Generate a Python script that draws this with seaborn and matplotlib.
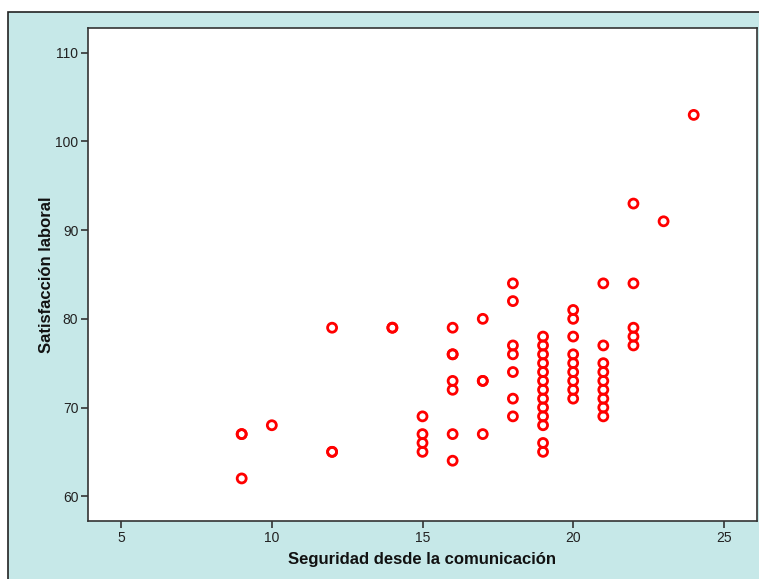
import matplotlib
matplotlib.use("Agg")
import matplotlib.pyplot as plt
import seaborn as sns
import pandas as pd
from matplotlib.patches import Rectangle

# Data
seguridad = [9, 9, 9, 10, 12, 12, 12, 14, 14,
             15, 15, 15, 15,
             16, 16, 16, 16, 16, 16, 16,
             17, 17, 17, 17,
             18, 18, 18, 18, 18, 18, 18,
             19, 19, 19, 19, 19, 19, 19, 19, 19, 19, 19, 19, 19,
             20, 20, 20, 20, 20, 20, 20, 20, 20,
             21, 21, 21, 21, 21, 21, 21, 21, 21,
             22, 22, 22, 22, 22,
             23, 24]
satisfaccion = [67, 67, 62, 68, 79, 65, 65, 79, 79,
                69, 67, 66, 65,
                79, 76, 76, 73, 72, 67, 64,
                80, 73, 73, 67,
                84, 82, 77, 76, 74, 71, 69,
                78, 77, 76, 75, 74, 73, 72, 71, 70, 69, 68, 66, 65,
                81, 80, 78, 76, 75, 74, 73, 72, 71,
                84, 77, 75, 74, 73, 72, 71, 70, 69,
                93, 84, 79, 78, 77,
                91, 103]
x_ticks = [5, 10, 15, 20, 25]
y_ticks = [60, 70, 80, 90, 100, 110]

df = pd.DataFrame({"Seguridad desde la comunicación": seguridad,
                   "Satisfacción laboral": satisfaccion})

sns.set_theme(style="white")
plt.rcParams['font.family'] = ['Liberation Sans', 'DejaVu Sans']

fig = plt.figure(figsize=(7.59, 5.79), dpi=100, facecolor="white")
# teal panel background (extends past right and bottom edges)
bg = Rectangle((8 / 759, -0.05), 1.1, 1.05 - 12 / 579, transform=fig.transFigure,
               facecolor="#C6E8E8", edgecolor="#222222", linewidth=1.2, zorder=-10)
fig.patches.append(bg)

ax = fig.add_axes([88 / 759, 1 - 521 / 579, (757 - 88) / 759, (521 - 28) / 579])
ax.set_facecolor("white")

sns.scatterplot(data=df, x="Seguridad desde la comunicación", y="Satisfacción laboral",
                ax=ax, marker="o", s=42, facecolor="none", edgecolor="#FF0000",
                linewidth=2.0)

ax.set_xlim(3.9, 26.1)
ax.set_ylim(57.2, 112.8)
ax.set_xticks(x_ticks)
ax.set_yticks(y_ticks)
ax.tick_params(axis="both", which="major", direction="out", length=5, width=1.2,
               color="#333333", labelsize=10, labelcolor="#222222", pad=2,
               left=True, bottom=True)
for sp in ax.spines.values():
    sp.set_color("#333333")
    sp.set_linewidth(1.2)
ax.set_xlabel("Seguridad desde la comunicación", fontsize=12, fontweight="bold",
              color="#111111", labelpad=5)
ax.set_ylabel("Satisfacción laboral", fontsize=12, fontweight="bold",
              color="#111111", labelpad=1)

fig.savefig("out.png", dpi=100, facecolor=fig.get_facecolor())
